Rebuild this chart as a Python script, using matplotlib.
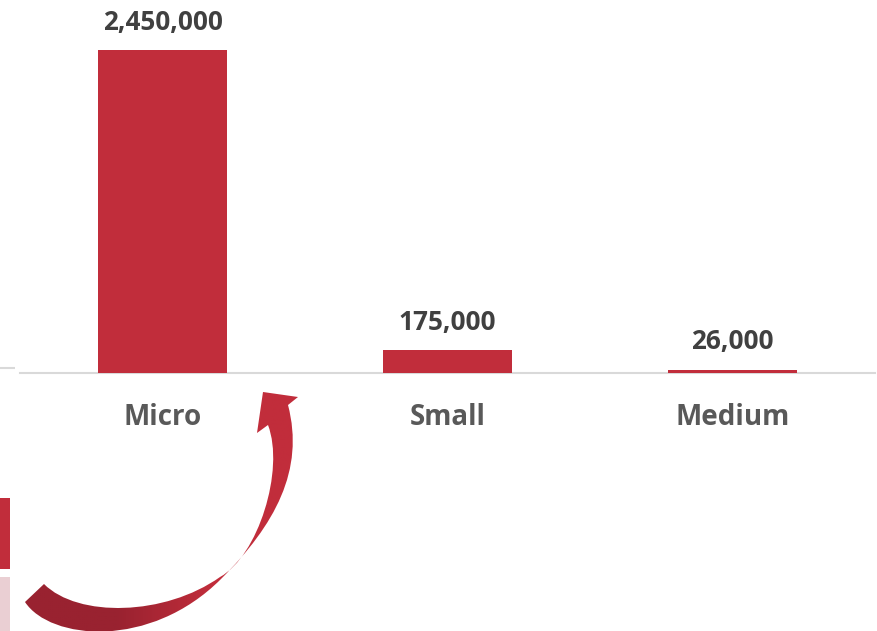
import matplotlib

matplotlib.use("Agg")
import matplotlib.pyplot as plt
import numpy as np
from matplotlib.colors import LinearSegmentedColormap
from matplotlib.patches import PathPatch, Rectangle
from matplotlib.path import Path

# Enterprise counts by size class
categories = ["Micro", "Small", "Medium"]
counts = [2_450_000, 175_000, 26_000]

BAR_RED = "#C12D3B"
DARK_RED = "#992230"
PALE_RED = "#EACFD3"
AXIS_GREY = "#D9D9D9"
VALUE_GREY = "#404040"
LABEL_GREY = "#595959"

W, H = 877, 631
plt.rcParams["font.family"] = ["Open Sans", "DejaVu Sans"]

fig = plt.figure(figsize=(W / 100, H / 100), dpi=100)

# main bar axes: baseline sits 373 px down, spans x = 20..875 px
base_px = 373
ax = fig.add_axes([20 / W, 1 - base_px / H, 855 / W, base_px / H])
x = np.arange(len(categories))
ax.bar(x, counts, width=0.456, color=BAR_RED, zorder=3)
ax.set_xlim(-0.5, 2.5)
ax.set_ylim(0, counts[0] * base_px / 323)

for side in ("top", "right", "left"):
    ax.spines[side].set_visible(False)
ax.spines["bottom"].set_color(AXIS_GREY)
ax.spines["bottom"].set_linewidth(1.5)
ax.set_yticks([])
ax.set_xticks([])

for xi, v in zip(x, counts):
    ax.annotate(f"{v:,}", (xi, v), xytext=(0, 20), textcoords="offset points",
                ha="center", va="center", fontsize=18.8, fontweight="bold",
                color=VALUE_GREY)

for xi, name in zip(x, categories):
    ax.annotate(name, (xi, 0), xycoords=("data", "axes fraction"),
                xytext=(0, -32), textcoords="offset points",
                ha="center", va="center", fontsize=20, fontweight="bold",
                color=LABEL_GREY)

# overlay in pixel coordinates (y grows downward) for the decorations
over = fig.add_axes([0, 0, 1, 1], zorder=5)
over.set_xlim(0, W)
over.set_ylim(H, 0)
over.axis("off")
over.patch.set_alpha(0)

# neighbouring panel fragments on the left edge
over.plot([0, 15], [368, 368], color=AXIS_GREY, lw=1.5, solid_capstyle="butt")
over.add_patch(Rectangle((0, 498), 10, 71, color=BAR_RED, lw=0))
over.add_patch(Rectangle((0, 577), 10, 60, color=PALE_RED, lw=0))

# curved arrow sweeping from bottom-left up toward the Micro bar
verts = [
    (25, 602),
    (50, 640), (150, 650), (221, 579),      # outer edge along the bottom
    (275, 525), (305, 470), (288, 405),     # outer edge rising to the head
    (298, 397),                             # head
    (263, 392),
    (257, 433),
    (268, 425),
    (285, 470), (258, 556), (220, 577),     # inner edge down to the pinch
    (165, 616), (78, 618), (44, 584),       # inner edge back to the tail
    (25, 602),
]
codes = ([Path.MOVETO] + [Path.CURVE4] * 6 + [Path.LINETO] * 4
         + [Path.CURVE4] * 6 + [Path.CLOSEPOLY])
arrow = PathPatch(Path(verts, codes), facecolor="none", edgecolor="none")
over.add_patch(arrow)

grad_cmap = LinearSegmentedColormap.from_list("arrow", [DARK_RED, DARK_RED, BAR_RED, BAR_RED])
grad = np.linspace(0, 1, 256)[None, :]
img = over.imshow(grad, cmap=grad_cmap, extent=(20, 310, H, 380),
                  aspect="auto", interpolation="bilinear")
img.set_clip_path(arrow)

fig.savefig("out.png", dpi=100)
